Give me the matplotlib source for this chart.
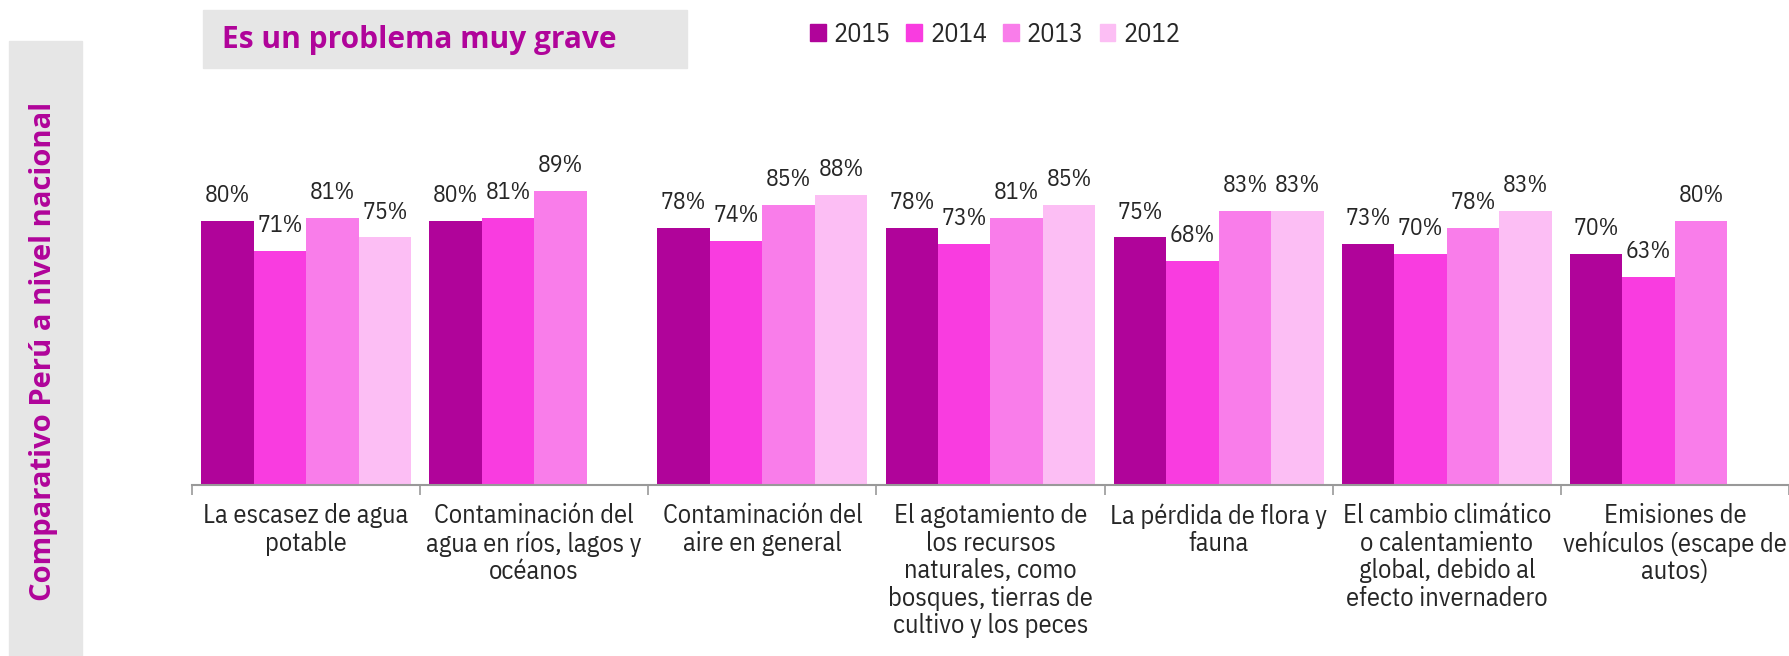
import matplotlib
matplotlib.use('Agg')
import matplotlib.pyplot as plt
import numpy as np
from matplotlib.patches import Rectangle, Patch

categories = ['La escasez de agua\npotable',
              'Contaminación del\nagua en ríos, lagos y\nocéanos',
              'Contaminación del\naire en general',
              'El agotamiento de\nlos recursos\nnaturales, como\nbosques, tierras de\ncultivo y los peces',
              'La pérdida de flora y\nfauna',
              'El cambio climático\no calentamiento\nglobal, debido al\nefecto invernadero',
              'Emisiones de\nvehículos (escape de\nautos)']
years = ['2015', '2014', '2013', '2012']
v2015 = [80, 80, 78, 78, 75, 73, 70]
v2014 = [71, 81, 74, 73, 68, 70, 63]
v2013 = [81, 89, 85, 81, 83, 78, 80]
v2012 = [75, np.nan, 88, 85, 83, 83, np.nan]
colors = ['#B0049A', '#F93CE0', '#F97DEA', '#FCBEF4']

narrow = ['IBM Plex Sans Condensed', 'DejaVu Sans']
bold = ['Open Sans', 'DejaVu Sans']
magenta = '#B0049A'
txt = '#262626'

fig = plt.figure(figsize=(17.9, 6.56), dpi=100)
ax = fig.add_axes([192/1790, 171/656, 1597/1790, 330/656])

x = np.arange(len(categories))
w = 0.23
series = [v2015, v2014, v2013, v2012]
for i, vals in enumerate(series):
    vals = np.array(vals, dtype=float)
    pos = x + (i - 1.5) * w
    ax.bar(pos, vals, width=w, color=colors[i], label=years[i])
    for px, v in zip(pos, vals):
        if not np.isnan(v):
            ax.annotate(f'{v:.0f}%', (px, v), xytext=(0, 10), textcoords='offset points',
                        ha='center', va='bottom', fontsize=17, color=txt, family=narrow)

ax.set_xlim(-0.5, 6.5)
ax.set_ylim(0, 100)
for s in ['top', 'right', 'left']:
    ax.spines[s].set_visible(False)
ax.spines['bottom'].set_color('#999999')
ax.spines['bottom'].set_linewidth(1.5)
ax.set_yticks([])
ax.set_xticks(x)
ax.set_xticklabels(categories, fontsize=19, color=txt, family=narrow, linespacing=1.13)
ax.tick_params(axis='x', which='major', length=0, pad=13)
ax.set_xticks(np.arange(-0.5, 7.0, 1.0), minor=True)
ax.tick_params(axis='x', which='minor', length=7, width=1.2, color='#999999')

# left vertical box
fig.patches.append(Rectangle((9/1790, 0), 73/1790, 615/656, transform=fig.transFigure,
                             color='#E6E6E6', zorder=0))
fig.text(44/1790, 1 - 351/656, 'Comparativo Perú a nivel nacional', rotation=90,
         ha='center', va='center', fontsize=21, fontweight='bold', color=magenta, family=bold)

# title box
fig.patches.append(Rectangle((203/1790, 1 - 68/656), 484/1790, 58/656, transform=fig.transFigure,
                             color='#E6E6E6', zorder=0))
fig.text(222/1790, 1 - 40/656, 'Es un problema muy grave', ha='left', va='center',
         fontsize=21.5, fontweight='bold', color=magenta, family=bold)

handles = [Patch(color=c, label=y) for c, y in zip(colors, years)]
leg = fig.legend(handles=handles, loc='center', bbox_to_anchor=(995/1790, 1 - 34/656), ncol=4,
                 frameon=False, handlelength=0.6, handleheight=0.6, handletextpad=0.3,
                 columnspacing=0.6, prop={'family': narrow, 'size': 19})
for t in leg.get_texts():
    t.set_color(txt)

fig.savefig('out.png', dpi=100)
